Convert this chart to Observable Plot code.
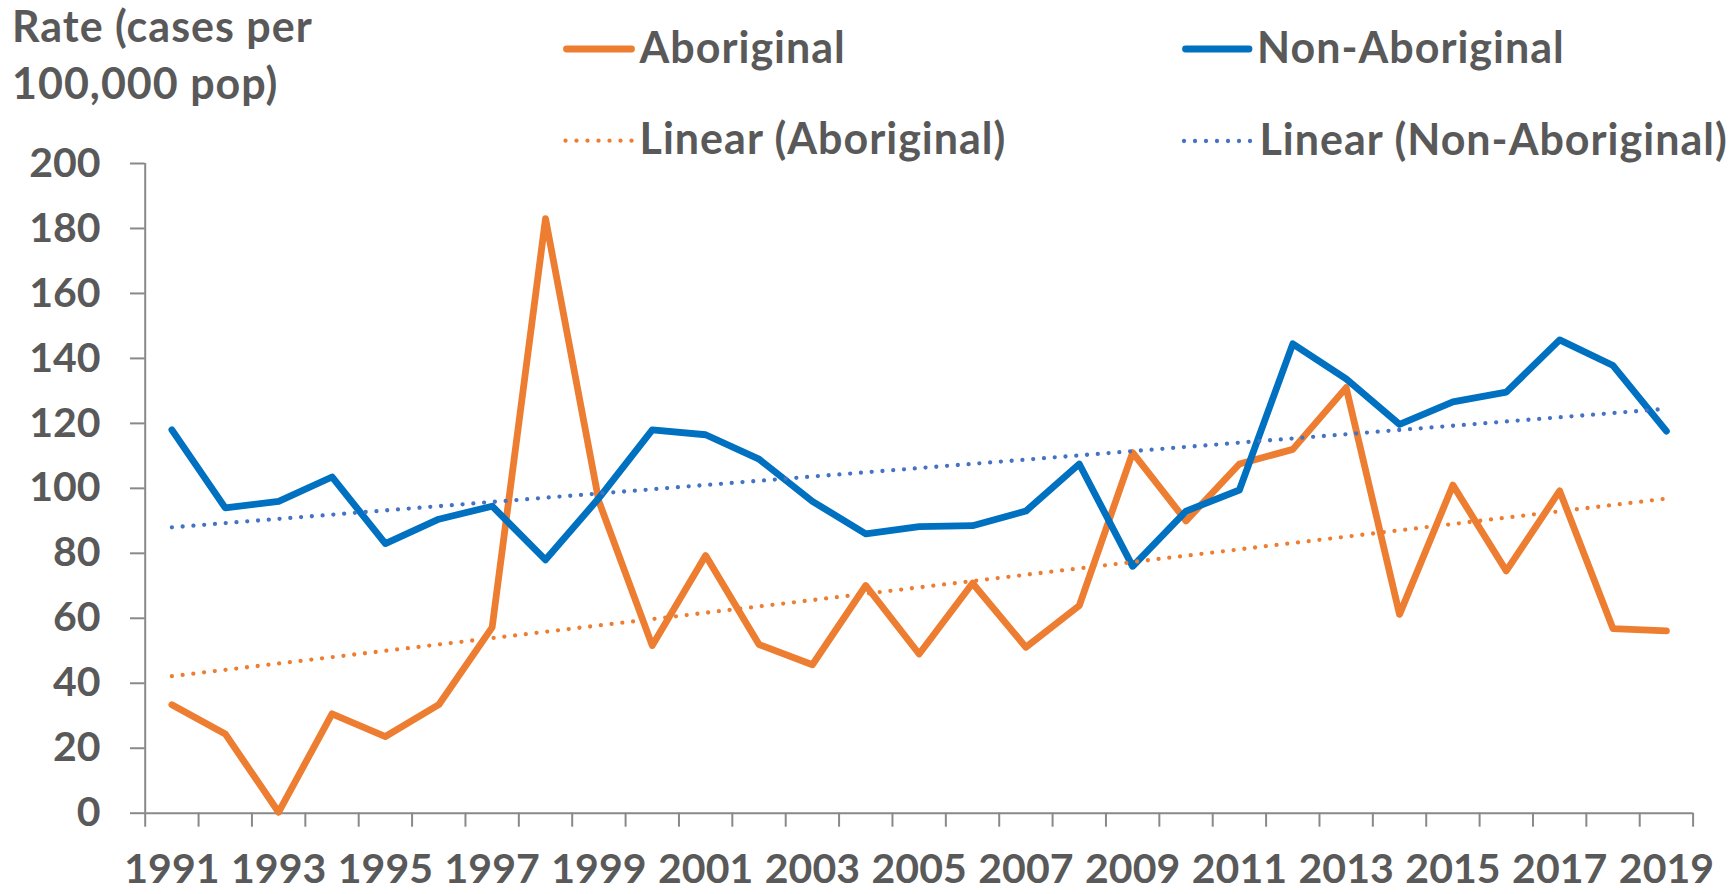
<!DOCTYPE html>
<html>
<head>
<meta charset="utf-8">
<script src="https://cdn.jsdelivr.net/npm/d3@7"></script>
<script src="https://cdn.jsdelivr.net/npm/@observablehq/plot@0.6"></script>
<style>
  html, body { margin: 0; padding: 0; background: #ffffff; }
  #wrap { position: relative; width: 1729px; height: 894px; overflow: hidden; }
  #chart { position: absolute; left: 0; top: 0; }
  #legend { position: absolute; left: 0; top: 0; }
  #legend text { font-family: Lato, sans-serif; font-weight: 700; font-size: 43px; letter-spacing: 1px; fill: #595959; }
</style>
</head>
<body>
<div id="wrap">
  <div id="chart"></div>
  <svg id="legend" width="1729" height="175">
    <text x="12" y="41.7">Rate (cases per</text>
    <text x="12" y="99.3">100,000 pop)</text>
    <line x1="566.5" y1="49" x2="631.5" y2="49" stroke="#ED7D31" stroke-width="6.8" stroke-linecap="round"/>
    <text x="639.5" y="62.7">Aboriginal</text>
    <line x1="1185.5" y1="49" x2="1249" y2="49" stroke="#0070C0" stroke-width="6.8" stroke-linecap="round"/>
    <text x="1257" y="62.7">Non-Aboriginal</text>
    <line x1="565.5" y1="140.7" x2="632" y2="140.7" stroke="#ED7D31" stroke-width="4.3" stroke-dasharray="0 11" stroke-linecap="round"/>
    <text x="639.6" y="154.3">Linear (Aboriginal)</text>
    <line x1="1184" y1="141" x2="1250.4" y2="141" stroke="#4472C4" stroke-width="4.3" stroke-dasharray="0 11" stroke-linecap="round"/>
    <text x="1259.5" y="155">Linear (Non-Aboriginal)</text>
  </svg>
</div>
<script>
// ---- Data ----
const years = [1991, 1992, 1993, 1994, 1995, 1996, 1997, 1998, 1999, 2000,
               2001, 2002, 2003, 2004, 2005, 2006, 2007, 2008, 2009, 2010,
               2011, 2012, 2013, 2014, 2015, 2016, 2017, 2018, 2019];
const aboriginal = [33.4, 24.4, 0.3, 30.6, 23.6, 33.4, 57.2, 183, 96, 51.6,
                    79.3, 51.9, 45.7, 70.1, 49, 70.8, 51.1, 63.9, 111, 90,
                    107.5, 112, 131, 61.2, 101, 74.6, 99.2, 56.8, 56.1];
const nonAboriginal = [118, 94, 96, 103.5, 83, 90.5, 94.5, 78, 97, 118,
                       116.5, 109, 96, 86, 88.2, 88.5, 93, 107.5, 76, 93,
                       99.5, 144.5, 133.7, 119.7, 126.6, 129.6, 145.7, 137.8, 117.6];
const yTicks = [0, 20, 40, 60, 80, 100, 120, 140, 160, 180, 200];
const xLabelYears = [1991, 1993, 1995, 1997, 1999, 2001, 2003, 2005, 2007, 2009,
                     2011, 2013, 2015, 2017, 2019];

// ---- Styling ----
const orange = "#ED7D31";
const blue = "#0070C0";
const trendBlue = "#4472C4";
const axisGray = "#898989";
const textGray = "#595959";

const abData = years.map((year, i) => ({year, rate: aboriginal[i]}));
const nonData = years.map((year, i) => ({year, rate: nonAboriginal[i]}));

const xMin = years[0] - 0.5;
const xMax = years[years.length - 1] + 0.5;
const boundaries = years.map(y => y - 0.5).concat([xMax]);

const chart = Plot.plot({
  width: 1729,
  height: 894,
  marginTop: 163,
  marginBottom: 81.3,
  marginLeft: 144.7,
  marginRight: 36.4,
  style: {
    fontFamily: "Lato, sans-serif",
    fontSize: "41px",
    fontWeight: 700,
    color: textGray,
    background: "transparent"
  },
  x: {domain: [xMin, xMax]},
  y: {domain: [0, 200]},
  marks: [
    Plot.axisY({ticks: yTicks, tickSize: 14.7, tickPadding: 30, stroke: axisGray, strokeWidth: 2,
                fill: textGray, label: null, tickFormat: d => String(d)}),
    Plot.axisX({ticks: boundaries, tickSize: 14, stroke: axisGray, strokeWidth: 2,
                tickFormat: () => "", label: null}),
    Plot.axisX({ticks: xLabelYears, tickSize: 0, tickPadding: 41, fill: textGray,
                tickFormat: d => String(d), label: null}),
    Plot.ruleY([0], {stroke: axisGray, strokeWidth: 2}),
    Plot.ruleX([xMin], {stroke: axisGray, strokeWidth: 2}),
    Plot.line(abData, {x: "year", y: "rate", stroke: orange, strokeWidth: 6.8,
                       strokeLinejoin: "round", strokeLinecap: "round"}),
    Plot.line(nonData, {x: "year", y: "rate", stroke: blue, strokeWidth: 6.8,
                        strokeLinejoin: "round", strokeLinecap: "round"}),
    Plot.linearRegressionY(abData, {x: "year", y: "rate", stroke: orange, strokeWidth: 4.3,
                                    strokeDasharray: "0 10.8", strokeLinecap: "round", ci: 0}),
    Plot.linearRegressionY(nonData, {x: "year", y: "rate", stroke: trendBlue, strokeWidth: 4.3,
                                     strokeDasharray: "0 10.8", strokeLinecap: "round", ci: 0})
  ]
});
document.getElementById("chart").appendChild(chart);
</script>
</body>
</html>
